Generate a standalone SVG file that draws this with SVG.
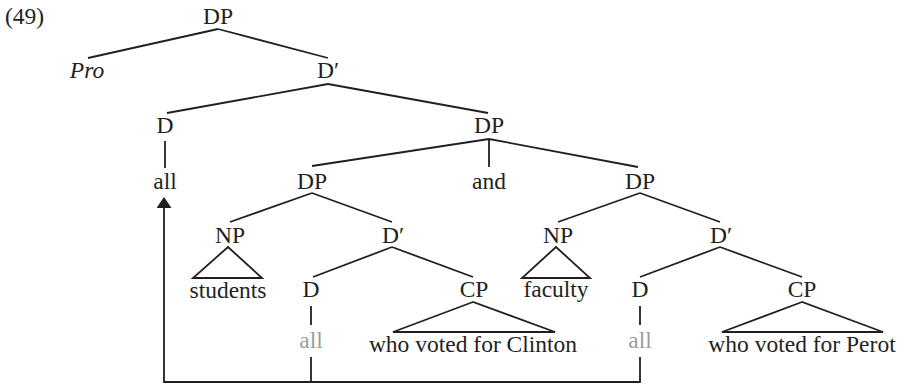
<svg xmlns="http://www.w3.org/2000/svg" width="906" height="386" viewBox="0 0 906 386">
  <style>
    text { font-family: "Liberation Serif", "Times New Roman", serif; font-size: 23.5px; fill: #231f20; text-anchor: middle; }
    text.num { text-anchor: start; }
    text.it { font-style: italic; }
    text.trace { fill: #9d9d9d; }
    .edge { stroke: #231f20; stroke-width: 1.8; fill: none; stroke-linejoin: miter; }
  </style>
  <defs>
    <!-- base of the head sits on the line end, tip points onward -->
    <marker id="arrow" markerUnits="userSpaceOnUse" markerWidth="12" markerHeight="16" refX="0" refY="7.5" orient="auto">
      <path d="M0,0 L11,7.5 L0,15 Z" fill="#231f20"/>
    </marker>
  </defs>
  <rect width="906" height="386" fill="#ffffff"/>

  <text class="num" x="5" y="24">(49)</text>

  <!-- tree branches, triangles and the movement path -->
  <g id="connectors">
    <line class="edge" x1="218" y1="29" x2="88" y2="58"/>
    <line class="edge" x1="218" y1="29" x2="328" y2="58"/>
    <line class="edge" x1="328" y1="84" x2="167" y2="113"/>
    <line class="edge" x1="328" y1="84" x2="488" y2="113"/>
    <line class="edge" x1="165" y1="141" x2="165" y2="168"/>
    <line class="edge" x1="489" y1="139" x2="312" y2="166"/>
    <line class="edge" x1="489" y1="139" x2="489" y2="167"/>
    <line class="edge" x1="489" y1="139" x2="638" y2="167"/>
    <line class="edge" x1="312" y1="193" x2="230" y2="222"/>
    <line class="edge" x1="312" y1="193" x2="392" y2="222"/>
    <polygon class="edge" points="228,247 193,278 262,278"/>
    <line class="edge" x1="392" y1="247" x2="313" y2="277"/>
    <line class="edge" x1="392" y1="247" x2="473" y2="277"/>
    <polygon class="edge" points="473,302 393,332 555,332"/>
    <line class="edge" x1="311" y1="306" x2="311" y2="325"/>
    <line class="edge" x1="640" y1="193" x2="558" y2="222"/>
    <line class="edge" x1="640" y1="193" x2="720" y2="222"/>
    <polygon class="edge" points="556,247 522,278 590,278"/>
    <line class="edge" x1="720" y1="247" x2="640" y2="277"/>
    <line class="edge" x1="720" y1="247" x2="802" y2="277"/>
    <polygon class="edge" points="802,302 722,332 883,332"/>
    <line class="edge" x1="640" y1="306" x2="640" y2="325"/>
    <polyline class="edge" points="640,357 640,382 164,382 164,208" marker-end="url(#arrow)"/>
    <line class="edge" x1="311" y1="357" x2="311" y2="382"/>
  </g>

  <g id="dp-root"><text x="218" y="24">DP</text></g>
  <g id="pro"><text class="it" x="87" y="78">Pro</text></g>
  <g id="dbar-top"><text x="328" y="78">D′</text></g>
  <g id="d-top"><text x="165" y="133">D</text></g>
  <g id="all-top"><text x="165" y="189">all</text></g>
  <g id="dp-coord"><text x="489" y="133">DP</text></g>
  <g id="and"><text x="489" y="189">and</text></g>

  <g id="dp-left"><text x="312" y="189">DP</text></g>
  <g id="np-left"><text x="230" y="243">NP</text></g>
  <g id="students"><text x="228" y="298">students</text></g>
  <g id="dbar-left"><text x="393" y="243">D′</text></g>
  <g id="d-left"><text x="311" y="297">D</text></g>
  <g id="all-left"><text class="trace" x="311" y="348">all</text></g>
  <g id="cp-left"><text x="474" y="297">CP</text></g>
  <g id="clinton"><text x="473" y="352">who voted for Clinton</text></g>

  <g id="dp-right"><text x="640" y="189">DP</text></g>
  <g id="np-right"><text x="558" y="243">NP</text></g>
  <g id="faculty"><text x="556" y="297">faculty</text></g>
  <g id="dbar-right"><text x="721" y="243">D′</text></g>
  <g id="d-right"><text x="640" y="297">D</text></g>
  <g id="all-right"><text class="trace" x="640" y="348">all</text></g>
  <g id="cp-right"><text x="802" y="297">CP</text></g>
  <g id="perot"><text x="802" y="352">who voted for Perot</text></g>
</svg>
